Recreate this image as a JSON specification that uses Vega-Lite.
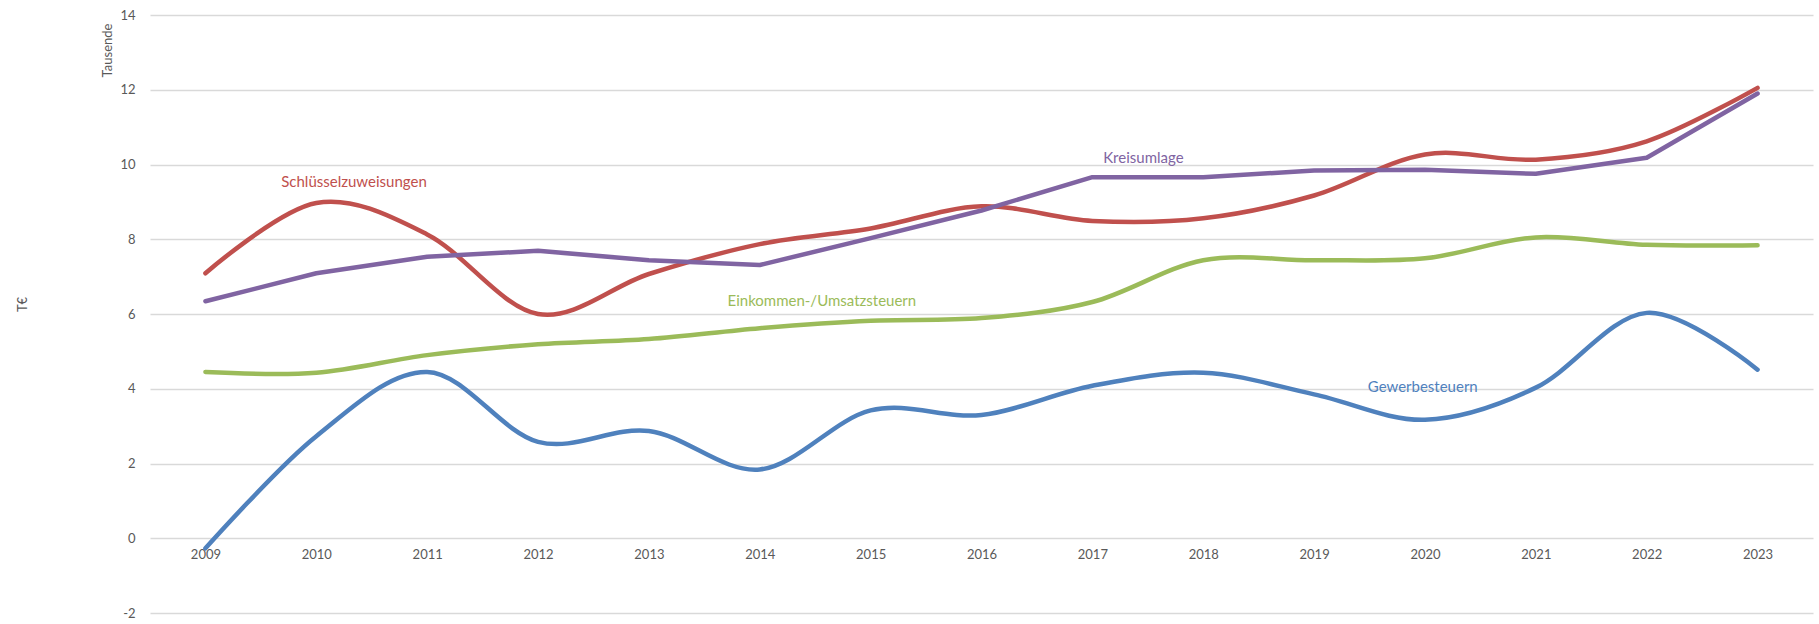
{
  "$schema": "https://vega.github.io/schema/vega-lite/v6.json",
  "width": 1663,
  "height": 598,
  "autosize": {"type": "none"},
  "padding": {"left": 150, "top": 15, "right": 6, "bottom": 11},
  "background": "white",
  "config": {"view": {"stroke": null}, "font": "Lato"},
  "datasets": {
    "series": [
      {"year": 2009, "series": "Gewerbesteuern", "value": -0.27},
      {"year": 2010, "series": "Gewerbesteuern", "value": 2.73},
      {"year": 2011, "series": "Gewerbesteuern", "value": 4.45},
      {"year": 2012, "series": "Gewerbesteuern", "value": 2.58},
      {"year": 2013, "series": "Gewerbesteuern", "value": 2.87},
      {"year": 2014, "series": "Gewerbesteuern", "value": 1.84},
      {"year": 2015, "series": "Gewerbesteuern", "value": 3.42},
      {"year": 2016, "series": "Gewerbesteuern", "value": 3.3},
      {"year": 2017, "series": "Gewerbesteuern", "value": 4.08},
      {"year": 2018, "series": "Gewerbesteuern", "value": 4.43},
      {"year": 2019, "series": "Gewerbesteuern", "value": 3.85},
      {"year": 2020, "series": "Gewerbesteuern", "value": 3.17},
      {"year": 2021, "series": "Gewerbesteuern", "value": 4.03},
      {"year": 2022, "series": "Gewerbesteuern", "value": 6.03},
      {"year": 2023, "series": "Gewerbesteuern", "value": 4.51},
      {"year": 2009, "series": "Einkommen-/Umsatzsteuern", "value": 4.45},
      {"year": 2010, "series": "Einkommen-/Umsatzsteuern", "value": 4.43},
      {"year": 2011, "series": "Einkommen-/Umsatzsteuern", "value": 4.9},
      {"year": 2012, "series": "Einkommen-/Umsatzsteuern", "value": 5.19},
      {"year": 2013, "series": "Einkommen-/Umsatzsteuern", "value": 5.33},
      {"year": 2014, "series": "Einkommen-/Umsatzsteuern", "value": 5.62},
      {"year": 2015, "series": "Einkommen-/Umsatzsteuern", "value": 5.82},
      {"year": 2016, "series": "Einkommen-/Umsatzsteuern", "value": 5.89},
      {"year": 2017, "series": "Einkommen-/Umsatzsteuern", "value": 6.32},
      {"year": 2018, "series": "Einkommen-/Umsatzsteuern", "value": 7.44},
      {"year": 2019, "series": "Einkommen-/Umsatzsteuern", "value": 7.44},
      {"year": 2020, "series": "Einkommen-/Umsatzsteuern", "value": 7.49},
      {"year": 2021, "series": "Einkommen-/Umsatzsteuern", "value": 8.05},
      {"year": 2022, "series": "Einkommen-/Umsatzsteuern", "value": 7.85},
      {"year": 2023, "series": "Einkommen-/Umsatzsteuern", "value": 7.84},
      {"year": 2009, "series": "Schlüsselzuweisungen", "value": 7.09},
      {"year": 2010, "series": "Schlüsselzuweisungen", "value": 8.97},
      {"year": 2011, "series": "Schlüsselzuweisungen", "value": 8.13},
      {"year": 2012, "series": "Schlüsselzuweisungen", "value": 6.0},
      {"year": 2013, "series": "Schlüsselzuweisungen", "value": 7.07},
      {"year": 2014, "series": "Schlüsselzuweisungen", "value": 7.87},
      {"year": 2015, "series": "Schlüsselzuweisungen", "value": 8.29},
      {"year": 2016, "series": "Schlüsselzuweisungen", "value": 8.88},
      {"year": 2017, "series": "Schlüsselzuweisungen", "value": 8.49},
      {"year": 2018, "series": "Schlüsselzuweisungen", "value": 8.56},
      {"year": 2019, "series": "Schlüsselzuweisungen", "value": 9.17},
      {"year": 2020, "series": "Schlüsselzuweisungen", "value": 10.27},
      {"year": 2021, "series": "Schlüsselzuweisungen", "value": 10.13},
      {"year": 2022, "series": "Schlüsselzuweisungen", "value": 10.62},
      {"year": 2023, "series": "Schlüsselzuweisungen", "value": 12.05},
      {"year": 2009, "series": "Kreisumlage", "value": 6.34},
      {"year": 2010, "series": "Kreisumlage", "value": 7.09},
      {"year": 2011, "series": "Kreisumlage", "value": 7.53},
      {"year": 2012, "series": "Kreisumlage", "value": 7.69},
      {"year": 2013, "series": "Kreisumlage", "value": 7.44},
      {"year": 2014, "series": "Kreisumlage", "value": 7.31},
      {"year": 2015, "series": "Kreisumlage", "value": 8.03},
      {"year": 2016, "series": "Kreisumlage", "value": 8.77},
      {"year": 2017, "series": "Kreisumlage", "value": 9.66},
      {"year": 2018, "series": "Kreisumlage", "value": 9.66},
      {"year": 2019, "series": "Kreisumlage", "value": 9.84},
      {"year": 2020, "series": "Kreisumlage", "value": 9.86},
      {"year": 2021, "series": "Kreisumlage", "value": 9.75},
      {"year": 2022, "series": "Kreisumlage", "value": 10.18},
      {"year": 2023, "series": "Kreisumlage", "value": 11.9}
    ],
    "labels": [
      {"year": 2010.34, "value": 9.54, "series": "Schlüsselzuweisungen"},
      {"year": 2017.46, "value": 10.18, "series": "Kreisumlage"},
      {"year": 2014.56, "value": 6.35, "series": "Einkommen-/Umsatzsteuern"},
      {"year": 2019.98, "value": 4.05, "series": "Gewerbesteuern"}
    ]
  },
  "layer": [
    {
      "data": {"name": "series"},
      "encoding": {
        "x": {
          "field": "year",
          "type": "quantitative",
          "scale": {"domain": [2008.5, 2023.5], "nice": false, "zero": false},
          "axis": {
            "values": [2009, 2010, 2011, 2012, 2013, 2014, 2015, 2016, 2017, 2018, 2019, 2020, 2021, 2022, 2023],
            "format": "d",
            "offset": -75,
            "grid": false,
            "ticks": false,
            "domain": false,
            "labelPadding": 10,
            "labelFontSize": 13,
            "labelColor": "#595959",
            "title": null
          }
        },
        "y": {
          "field": "value",
          "type": "quantitative",
          "scale": {"domain": [-2, 14], "nice": false, "zero": false},
          "axis": {
            "orient": "left",
            "values": [-2, 0, 2, 4, 6, 8, 10, 12, 14],
            "labelExpr": "'' + datum.value",
            "grid": true,
            "gridColor": "#d9d9d9",
            "gridWidth": 1.5,
            "ticks": false,
            "domain": false,
            "labelPadding": 15,
            "labelFontSize": 13,
            "labelColor": "#595959",
            "title": "T€",
            "titleX": -128,
            "titleY": 289,
            "titleAngle": -90,
            "titleAlign": "center",
            "titleBaseline": "middle",
            "titleFontSize": 13,
            "titleFontWeight": "normal",
            "titleColor": "#595959"
          }
        },
        "color": {
          "field": "series",
          "type": "nominal",
          "scale": {
            "domain": ["Gewerbesteuern", "Einkommen-/Umsatzsteuern", "Schlüsselzuweisungen", "Kreisumlage"],
            "range": ["#4F81BD", "#9BBB59", "#C0504D", "#8064A2"]
          },
          "legend": null
        }
      },
      "layer": [
        {
          "transform": [{"filter": "datum.series !== 'Kreisumlage'"}],
          "mark": {"type": "line", "interpolate": "cardinal", "tension": 0, "strokeWidth": 4.5, "strokeCap": "round"}
        },
        {
          "transform": [{"filter": "datum.series === 'Kreisumlage'"}],
          "mark": {"type": "line", "strokeWidth": 4.5, "strokeCap": "round", "strokeJoin": "round"}
        }
      ]
    },
    {
      "data": {"name": "labels"},
      "mark": {"type": "text", "fontSize": 15, "align": "center", "baseline": "middle"},
      "encoding": {
        "x": {"field": "year", "type": "quantitative"},
        "y": {
          "field": "value",
          "type": "quantitative",
          "axis": {
            "orient": "left",
            "labels": false,
            "grid": false,
            "ticks": false,
            "domain": false,
            "title": "Tausende",
            "titleX": -43,
            "titleY": 35,
            "titleAngle": -90,
            "titleAlign": "center",
            "titleBaseline": "middle",
            "titleFontSize": 13,
            "titleFontWeight": "normal",
            "titleColor": "#595959"
          }
        },
        "text": {"field": "series"},
        "color": {"field": "series", "type": "nominal", "legend": null}
      }
    }
  ],
  "resolve": {"axis": {"y": "independent"}}
}
